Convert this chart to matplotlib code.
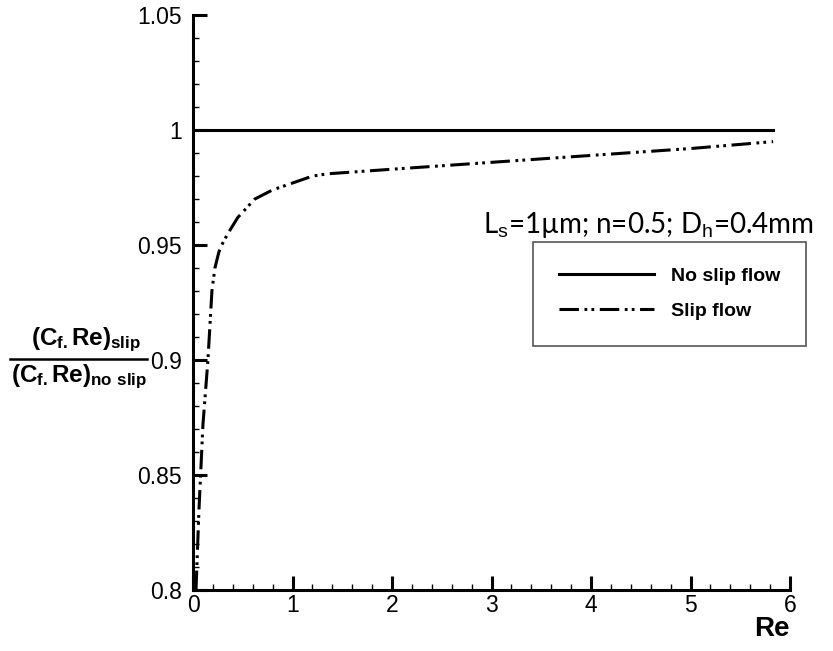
import numpy as np
import matplotlib
matplotlib.use("Agg")
import matplotlib.pyplot as plt
from matplotlib.ticker import MultipleLocator

plt.rcParams["font.family"] = ["Liberation Sans", "DejaVu Sans"]
plt.rcParams["mathtext.fontset"] = "custom"
plt.rcParams["mathtext.rm"] = "Liberation Sans"
plt.rcParams["mathtext.bf"] = "Liberation Sans:bold"
plt.rcParams["lines.scale_dashes"] = False

# data
re_slip = [0.03, 0.06, 0.1, 0.15, 0.19, 0.22, 0.26, 0.3, 0.35, 0.45, 0.62,
           0.8, 1.0, 1.2, 1.35, 2.0, 3.0, 4.0, 5.0, 5.83]
ratio_slip = [0.80, 0.835, 0.872, 0.90, 0.93, 0.94, 0.947, 0.951, 0.955,
              0.962, 0.970, 0.974, 0.977, 0.980, 0.981, 0.983, 0.986, 0.989,
              0.992, 0.995]
re_noslip = [0.0, 5.83]
ratio_noslip = [1.0, 1.0]

xticks = [0, 1, 2, 3, 4, 5, 6]
yticks = [0.8, 0.85, 0.9, 0.95, 1.0, 1.05]
ytick_labels = ["0.8", "0.85", "0.9", "0.95", "1", "1.05"]

fig = plt.figure(figsize=(8.33, 6.51), dpi=100)
ax = fig.add_axes([0.2317, 0.0937, 0.7167, 0.883])

ax.plot(re_noslip, ratio_noslip, color="black", lw=2.2, label="No slip flow")
ax.plot(re_slip, ratio_slip, color="black", lw=2.2,
        dashes=(14, 4, 2, 3, 2, 4), label="Slip flow")

ax.set_xlim(0, 6)
ax.set_ylim(0.8, 1.05)
ax.set_xticks(xticks)
ax.set_yticks(yticks)
ax.set_yticklabels(ytick_labels)
ax.xaxis.set_minor_locator(MultipleLocator(0.2))
ax.yaxis.set_minor_locator(MultipleLocator(0.01))
ax.tick_params(which="major", direction="in", length=10, width=2.2,
               labelsize=16.5, top=False, right=False)
ax.tick_params(which="minor", direction="in", length=4, width=1.0,
               top=False, right=False)
ax.tick_params(axis="y", pad=8)
ax.tick_params(axis="x", pad=3)
for s in ["top", "right"]:
    ax.spines[s].set_visible(False)
for s in ["left", "bottom"]:
    ax.spines[s].set_linewidth(2.2)

ax.text(0.97, -0.068, "Re", transform=ax.transAxes, ha="center", va="center",
        fontsize=20, fontweight="bold")

# y label as a fraction
fig.text(0.1035, 0.478, r"$\mathbf{(C_{f.}Re)_{slip}}$", ha="center",
         va="center", fontsize=17.5)
fig.text(0.0945, 0.421, r"$\mathbf{(C_{f.}Re)_{no\ slip}}$", ha="center",
         va="center", fontsize=17.5)
fig.add_artist(plt.Line2D([0.012, 0.176], [0.449, 0.449], color="black",
                          lw=1.8, transform=fig.transFigure))

ax.text(0.486, 0.635, "L$_\\mathrm{s}$=1µm; n=0.5; D$_\\mathrm{h}$=0.4mm",
        transform=ax.transAxes, ha="left", va="center", fontsize=20,
        family="Lato")

leg = ax.legend(loc="upper left", bbox_to_anchor=(0.57, 0.605), frameon=True,
                fancybox=False, edgecolor="#555555", framealpha=1,
                prop={"weight": "bold", "size": 14}, handlelength=4.9,
                borderpad=1.3, labelspacing=0.9, handletextpad=0.9,
                borderaxespad=0)
leg.get_frame().set_linewidth(1.2)

fig.savefig("out.png", dpi=100)
